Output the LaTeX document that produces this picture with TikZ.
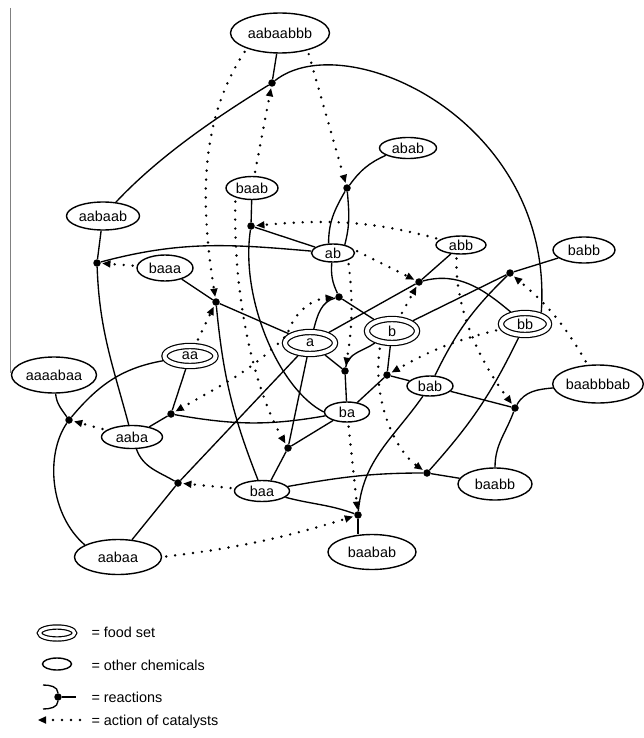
\documentclass[tikz,border=0pt]{standalone}
\usepackage{fontspec}
\setmainfont{Liberation Sans}
\usetikzlibrary{shapes.geometric,arrows.meta}
\newcommand{\chemfont}{\fontsize{14.4}{17}\selectfont}
\tikzset{
        chem/.style={ellipse, draw, line width=1.4pt, inner sep=0pt, font=\chemfont},
        food/.style={ellipse, draw, line width=1.2pt, double, double distance=4pt, inner sep=0pt, outer sep=3.2pt, font=\chemfont},
        rxn/.style={circle, fill, inner sep=0pt, minimum size=7.5pt},
        reaction/.style={line width=1.35pt},
        catalysis/.style={line width=2.7pt, line cap=round, dash pattern=on 0pt off 9pt, shorten <=4pt, shorten >=1.5pt, -{Triangle[length=8pt,width=7.5pt,line width=0pt]}}
}

\begin{document}
\begin{tikzpicture}[x=1pt, y=-1pt]
        \useasboundingbox (0,0) rectangle (643,738);
        \draw[gray, line width=0.8pt] (10,8) -- (10,373);

        \node (aabaabbb) at (280,33) [chem, minimum width=99pt, minimum height=40pt] {aabaabbb};
        \node (abab) at (408,148) [chem, minimum width=57pt, minimum height=21pt] {abab};
        \node (baab) at (252,188) [chem, minimum width=52pt, minimum height=23pt] {baab};
        \node (aabaab) at (103,216) [chem, minimum width=73pt, minimum height=28pt] {aabaab};
        \node (ab) at (333,253) [chem, minimum width=43pt, minimum height=18pt] {ab};
        \node (abb) at (461,245) [chem, minimum width=50pt, minimum height=18pt] {abb};
        \node (babb) at (584,250) [chem, minimum width=62pt, minimum height=26pt] {babb};
        \node (baaa) at (165,268) [chem, minimum width=56pt, minimum height=26pt] {baaa};
        \node (a) at (310,343) [food, minimum width=50pt, minimum height=22pt] {a};
        \node (b) at (392,331) [food, minimum width=50pt, minimum height=24pt] {b};
        \node (bb) at (525,324) [food, minimum width=48pt, minimum height=22pt] {bb};
        \node (aa) at (190,356) [food, minimum width=51pt, minimum height=20pt] {aa};
        \node (aaaabaa) at (54,375) [chem, minimum width=85pt, minimum height=36pt] {aaaabaa};
        \node (bab) at (430,386) [chem, minimum width=46pt, minimum height=20pt] {bab};
        \node (baabbbab) at (598,384) [chem, minimum width=87pt, minimum height=38pt] {baabbbab};
        \node (ba) at (347,412) [chem, minimum width=45pt, minimum height=20pt] {ba};
        \node (aaba) at (132,437) [chem, minimum width=61pt, minimum height=23pt] {aaba};
        \node (baa) at (262,491) [chem, minimum width=55pt, minimum height=21pt] {baa};
        \node (baabb) at (495,484) [chem, minimum width=74pt, minimum height=32pt] {baabb};
        \node (aabaa) at (118,557) [chem, minimum width=87pt, minimum height=35pt] {aabaa};
        \node (baabab) at (372,552) [chem, minimum width=88pt, minimum height=35pt] {baabab};

        \node (r-aabaabbb) at (272,83) [rxn] {};
        \node (r-abab) at (347,188) [rxn] {};
        \node (r-baab) at (251,226) [rxn] {};
        \node (r-abb) at (419,282) [rxn] {};
        \node (r-babb) at (510,273) [rxn] {};
        \node (r-ab) at (339,297) [rxn] {};
        \node (r-ba) at (345,371) [rxn] {};
        \node (r-bab) at (387,375) [rxn] {};
        \node (r-aaba) at (171,414) [rxn] {};
        \node (r-aaaabaa) at (69,420) [rxn] {};
        \node (r-aabaa) at (178,483) [rxn] {};
        \node (r-baa) at (288,448) [rxn] {};
        \node (r-baaa) at (216,302) [rxn] {};
        \node (r-aabaab) at (97,263) [rxn] {};
        \node (r-baabb) at (427,473) [rxn] {};
        \node (r-baabbbab) at (515,408) [rxn] {};
        \node (r-baabab) at (358,515) [rxn] {};

        \draw[reaction] (aabaabbb) -- (r-aabaabbb);
        \draw[reaction] (aabaab) .. controls (160,155) and (220,115) .. (r-aabaabbb);
        \draw[reaction] (r-aabaabbb) .. controls (345,25) and (555,120) .. (bb.35);
        \draw[reaction] (abab) to[bend right=15] (r-abab);
        \draw[reaction] (r-abab) to[out=-120,in=90] (ab.115);
        \draw[reaction] (r-abab) to[out=-85,in=75] (ab.35);
        \draw[reaction] (baab) -- (r-baab);
        \draw[reaction] (r-baab) -- (ab);
        \draw[reaction] (r-baab) .. controls (240,300) and (280,390) .. (ba.west);
        \draw[reaction] (abb) -- (r-abb);
        \draw[reaction] (a) -- (r-abb);
        \draw[reaction] (r-abb) to[out=15,in=140] (bb);
        \draw[reaction] (babb) -- (r-babb);
        \draw[reaction] (b) -- (r-babb);
        \draw[reaction] (bab) to[bend left=10] (r-babb);
        \draw[reaction] (ab) to[bend right=15] (r-ab);
        \draw[reaction] (r-ab) to[out=195,in=75] (a);
        \draw[reaction] (r-ab) -- (b);
        \draw[reaction] (a) -- (r-ba);
        \draw[reaction] (b) to[out=215,in=80] (r-ba);
        \draw[reaction] (r-ba) -- (ba);
        \draw[reaction] (b) -- (r-bab);
        \draw[reaction] (r-bab) -- (bab);
        \draw[reaction] (r-bab) -- (ba);
        \draw[reaction] (aa) -- (r-aaba);
        \draw[reaction] (r-aaba) -- (aaba);
        \draw[reaction] (r-aaba) to[out=-10,in=190] (ba);
        \draw[reaction] (aaaabaa) to[out=-85,in=125] (r-aaaabaa);
        \draw[reaction] (r-aaaabaa) to[out=50,in=190] (aa);
        \draw[reaction] (r-aaaabaa) .. controls (45,455) and (50,515) .. (aabaa.160);
        \draw[reaction] (aaba) to[out=-70,in=150] (r-aabaa);
        \draw[reaction] (r-aabaa) -- (a);
        \draw[reaction] (r-aabaa) -- (aabaa);
        \draw[reaction] (a) -- (r-baa);
        \draw[reaction] (ba) -- (r-baa);
        \draw[reaction] (r-baa) -- (baa.50);
        \draw[reaction] (baaa) -- (r-baaa);
        \draw[reaction] (r-baaa) -- (a);
        \draw[reaction] (r-baaa) to[bend right=8] (baa.110);
        \draw[reaction] (aabaab) -- (r-aabaab);
        \draw[reaction] (r-aabaab) to[out=15,in=175] (ab);
        \draw[reaction] (r-aabaab) to[out=-88,in=105] (aaba);
        \draw[reaction] (baabb) -- (r-baabb);
        \draw[reaction] (baa) to[out=10,in=180] (r-baabb);
        \draw[reaction] (bb) to[bend left=8] (r-baabb);
        \draw[reaction] (bab) -- (r-baabbbab);
        \draw[reaction] (baabbbab) to[out=185,in=60] (r-baabbbab);
        \draw[reaction] (r-baabbbab) to[out=-110,in=90] (baabb);
        \draw[reaction] (baa) to[out=-15,in=160] (r-baabab);
        \draw[reaction] (r-baabab) -- (baabab.north -| r-baabab);
        \draw[reaction] (bab) to[out=235,in=85] (r-baabab);

        \draw[catalysis] (baab) -- (r-aabaabbb);
        \draw[catalysis] (aabaabbb.-32) -- (r-abab);
        \draw[catalysis] (aabaabbb.-155) .. controls (200,120) and (200,200) .. (r-baaa);
        \draw[catalysis] (abb) to[out=165,in=5] (r-baab);
        \draw[catalysis] (ab.10) -- (r-abb);
        \draw[catalysis] (b) -- (r-abb);
        \draw[catalysis] (baabbbab) to[bend right=10] (r-babb);
        \draw[catalysis] (a.160) to[out=70,in=185] (r-ab);
        \draw[catalysis] (a.160) to[out=225,in=30] (r-aaba);
        \draw[catalysis] (ab.-25) to[bend left=8] (r-ba);
        \draw[catalysis] (bb) to[bend right=8] (r-bab);
        \draw[catalysis] (aaba) -- (r-aaaabaa);
        \draw[catalysis] (baa) -- (r-aabaa);
        \draw[catalysis] (baab.-150) .. controls (233,300) and (255,390) .. (r-baa);
        \draw[catalysis] (aa) -- (r-baaa);
        \draw[catalysis] (baaa) -- (r-aabaab);
        \draw[catalysis] (b.-130) .. controls (372,400) and (395,450) .. (r-baabb);
        \draw[catalysis] (abb.-115) .. controls (455,320) and (490,375) .. (r-baabbbab);
        \draw[catalysis] (ba) -- (r-baabab);
        \draw[catalysis] (aabaa.east) to[bend right=5] (r-baabab);

        \node (legfood) at (57,633) [food, minimum width=35pt, minimum height=12pt, double distance=3pt] {};
        \node (legchem) at (57,664) [chem, minimum width=29pt, minimum height=12pt] {};
        \node (legdot) at (58,697) [rxn] {};
        \coordinate (legtop) at (43,685);
        \coordinate (legbot) at (43,709);
        \coordinate (legout) at (76,697);
        \draw[reaction] (legtop) to[out=0,in=90] (legdot);
        \draw[reaction] (legdot) to[out=-90,in=0] (legbot);
        \draw[reaction] (legdot) -- (legout);
        \coordinate (legcatstart) at (80,720);
        \coordinate (legcatend) at (38,720);
        \draw[catalysis, shorten <=0pt, shorten >=0pt] (legcatstart) -- (legcatend);
        \node (legfoodtxt) at (88,637) [anchor=base west, font=\chemfont] {= food set};
        \node (legchemtxt) at (88,670) [anchor=base west, font=\chemfont] {= other chemicals};
        \node (legrxntxt) at (88,702) [anchor=base west, font=\chemfont] {= reactions};
        \node (legcattxt) at (88,725) [anchor=base west, font=\chemfont] {= action of catalysts};
\end{tikzpicture}
\end{document}
